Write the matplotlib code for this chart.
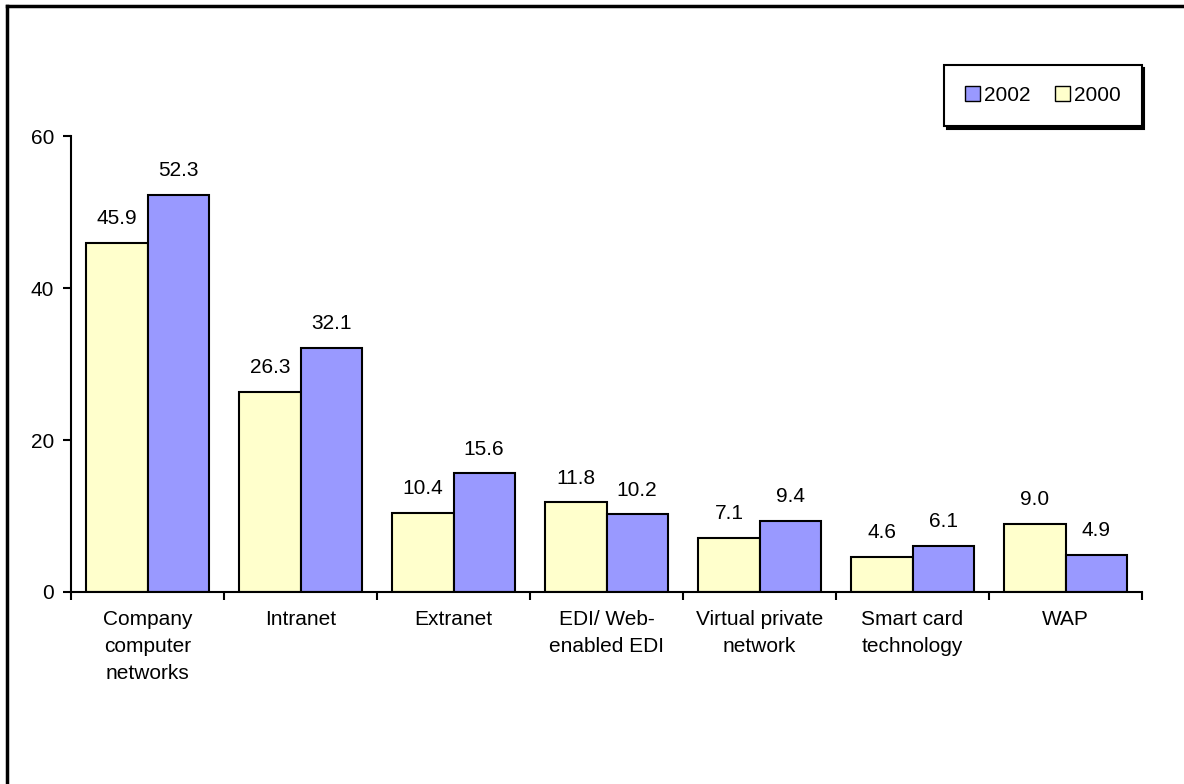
import matplotlib.pyplot as plt
import numpy as np
from matplotlib.lines import Line2D
from matplotlib.patches import Patch

plt.rcParams['font.family'] = ['Liberation Sans', 'DejaVu Sans']

categories = ["Company\ncomputer\nnetworks", "Intranet", "Extranet", "EDI/ Web-\nenabled EDI",
              "Virtual private\nnetwork", "Smart card\ntechnology", "WAP"]
values_2000 = [45.9, 26.3, 10.4, 11.8, 7.1, 4.6, 9.0]
values_2002 = [52.3, 32.1, 15.6, 10.2, 9.4, 6.1, 4.9]
yticks = [0, 20, 40, 60]

col_2000 = "#FFFFCC"
col_2002 = "#9999FF"
fs = 15

fig = plt.figure(figsize=(11.84, 7.84), dpi=100)
ax = fig.add_axes([71 / 1184, 0.2449, (1142 - 71) / 1184, 0.5816])

x = np.arange(len(categories))
w = 0.4
b1 = ax.bar(x - w / 2, values_2000, w, color=col_2000, edgecolor="black", linewidth=1.5)
b2 = ax.bar(x + w / 2, values_2002, w, color=col_2002, edgecolor="black", linewidth=1.5)

for bars, vals in ((b1, values_2000), (b2, values_2002)):
    for r, v in zip(bars, vals):
        ax.text(r.get_x() + r.get_width() / 2, v + 3.2, f"{v:.1f}",
                ha="center", va="center", fontsize=fs)

ax.set_xlim(-0.5, len(categories) - 0.5)
ax.set_ylim(0, 60)
ax.set_yticks(yticks)
ax.set_xticks(np.arange(len(categories) + 1) - 0.5)
ax.set_xticklabels([])
ax.set_xticks(x, minor=True)
ax.set_xticklabels(categories, minor=True, fontsize=fs, linespacing=1.52)
ax.tick_params(axis="x", which="minor", length=0, pad=13)
ax.tick_params(axis="x", which="major", length=6, width=1.5, direction="out")
ax.tick_params(axis="y", length=6, width=1.5, direction="out", labelsize=fs, pad=6)

for s in ("top", "right"):
    ax.spines[s].set_visible(False)
for s in ("left", "bottom"):
    ax.spines[s].set_linewidth(1.5)

handles = [Patch(facecolor=col_2002, edgecolor="black", label="2002"),
           Patch(facecolor=col_2000, edgecolor="black", label="2000")]
leg = fig.legend(handles=handles, ncol=2, loc="center",
                 bbox_to_anchor=(1043 / 1184, 1 - 95.5 / 784), fontsize=fs,
                 frameon=True, fancybox=False, edgecolor="black",
                 handlelength=0.7, handleheight=0.7, handletextpad=0.2,
                 columnspacing=1.2, borderpad=1.0,
                 shadow={"color": "black", "alpha": 1.0})
leg.get_frame().set_linewidth(1.5)

# frame lines along the top and left of the figure
fig.add_artist(Line2D([7 / 1184, 1.0], [1 - 6 / 784, 1 - 6 / 784], color="black", lw=2.5))
fig.add_artist(Line2D([7 / 1184, 7 / 1184], [0.0, 1 - 6 / 784], color="black", lw=2.5))

fig.savefig("out.png", dpi=100)
